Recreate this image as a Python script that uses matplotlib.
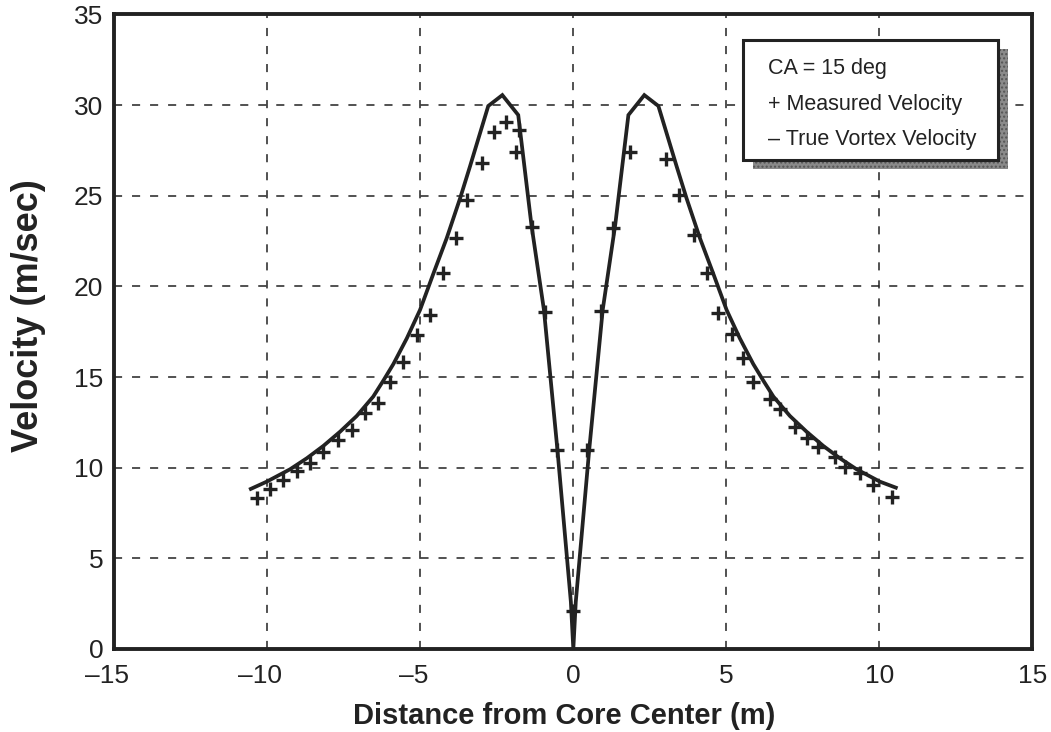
import numpy as np
import matplotlib
matplotlib.use("Agg")
import matplotlib.pyplot as plt
from matplotlib.patches import Rectangle
from matplotlib.transforms import ScaledTranslation

plt.rcParams['font.family'] = ['Liberation Sans', 'DejaVu Sans']

# True vortex velocity curve
true_x = [-10.54, -10.02, -9.26, -8.71, -8.17, -7.62, -7.08, -6.54, -6.21, -5.88,
          -5.44, -5.01, -4.57, -4.14, -3.70, -3.38, -2.78, -2.32, -1.80, -1.37,
          -0.96, -0.52, -0.08, 0.0,
          0.08, 0.52, 0.96, 1.37, 1.80, 2.32, 2.78, 3.38, 3.70, 4.14,
          4.57, 5.01, 5.44, 5.88, 6.21, 6.54, 7.08, 7.62, 8.17, 8.71,
          9.26, 10.02, 10.54]
true_v = [8.83, 9.23, 9.91, 10.52, 11.20, 11.99, 12.85, 13.92, 14.80, 15.72,
          17.14, 18.70, 20.72, 22.65, 24.86, 26.60, 29.95, 30.55, 29.45, 23.40,
          18.70, 11.00, 2.60, 0.0,
          2.60, 11.00, 18.70, 23.40, 29.45, 30.55, 29.95, 26.60, 24.86, 22.65,
          20.72, 18.70, 17.14, 15.72, 14.80, 13.92, 12.85, 11.99, 11.20, 10.52,
          9.91, 9.23, 8.90]

# Measured velocity (+ markers)
meas_x = [-10.34, -9.91, -9.50, -9.04, -8.60, -8.19, -7.68, -7.24, -6.81, -6.37,
          -5.99, -5.56, -5.12, -4.68, -4.25, -3.83, -3.48, -2.99, -2.59, -2.20,
          -1.76, -1.87, -1.36, -0.92, -0.54, 0.0,
          0.46, 0.90, 1.31, 1.85, 3.02, 3.46, 3.94, 4.36, 4.74, 5.18,
          5.56, 5.88, 6.43, 6.75, 7.25, 7.63, 8.01, 8.55, 8.88, 9.37,
          9.81, 10.41]
meas_v = [8.31, 8.81, 9.32, 9.82, 10.28, 10.88, 11.53, 12.08, 13.00, 13.59,
          14.74, 15.85, 17.32, 18.42, 20.72, 22.65, 24.77, 26.82, 28.53, 29.08,
          28.63, 27.43, 23.30, 18.60, 11.00, 2.10,
          11.00, 18.66, 23.20, 27.43, 27.00, 25.04, 22.83, 20.76, 18.55, 17.40,
          16.03, 14.74, 13.77, 13.22, 12.26, 11.62, 11.12, 10.61, 10.06, 9.69,
          9.05, 8.40]

x_ticks = [-15, -10, -5, 0, 5, 10, 15]
x_ticklabels = ['\u201315', '\u201310', '\u20135', '0', '5', '10', '15']
y_ticks = [0, 5, 10, 15, 20, 25, 30, 35]

legend_lines = ['CA = 15 deg', '+ Measured Velocity', '\u2013 True Vortex Velocity']

ink = '#222222'

fig = plt.figure(figsize=(10.51, 7.32), dpi=100)
ax = fig.add_axes([0.1088, 0.1134, 0.8734, 0.8669])

ax.plot(true_x, true_v, '-', color=ink, lw=2.7, solid_joinstyle='miter', zorder=3)
ax.plot(meas_x, meas_v, '+', color=ink, ms=10, mew=2.4, zorder=4)

ax.set_xlim(-15, 15)
ax.set_ylim(0, 35)
ax.set_xticks(x_ticks)
ax.set_xticklabels(x_ticklabels)
ax.set_yticks(y_ticks)
ax.tick_params(length=0, labelsize=19, colors=ink)
ax.tick_params(axis='x', pad=11)
ax.tick_params(axis='y', pad=8)

# keep the digits of negative labels centred on the tick, dash hanging left
for lab, t in zip(ax.get_xticklabels(), x_ticks):
    if t < 0:
        lab.set_transform(lab.get_transform() +
                          ScaledTranslation(-5 / 72, 0, fig.dpi_scale_trans))

ax.grid(True, color=ink, linestyle=(0, (5.3, 6.5)), linewidth=1.1)
for s in ax.spines.values():
    s.set_linewidth(2.8)
    s.set_color(ink)

ax.set_xlabel('Distance from Core Center (m)', fontsize=21, fontweight='bold',
              color=ink)
ax.xaxis.set_label_coords(0.49, -0.083)
ax.set_ylabel('Velocity (m/sec)', fontsize=26, fontweight='bold', color=ink)
ax.yaxis.set_label_coords(-0.074, 0.525)

# legend box with drop shadow
shadow = Rectangle((0.696, 0.757), 0.278, 0.189, transform=ax.transAxes,
                   facecolor='#8a8a8a', edgecolor='#555555', linewidth=0,
                   hatch='....', zorder=5)
ax.add_patch(shadow)
box = Rectangle((0.685, 0.7706), 0.278, 0.189, transform=ax.transAxes,
                facecolor='white', edgecolor=ink, linewidth=2.2, zorder=6)
ax.add_patch(box)
for txt, yy in zip(legend_lines, [0.9061, 0.8494, 0.7942]):
    ax.text(0.712, yy, txt, transform=ax.transAxes, fontsize=15.5, color=ink,
            va='baseline', ha='left', zorder=7)

fig.savefig('out.png', dpi=100)
